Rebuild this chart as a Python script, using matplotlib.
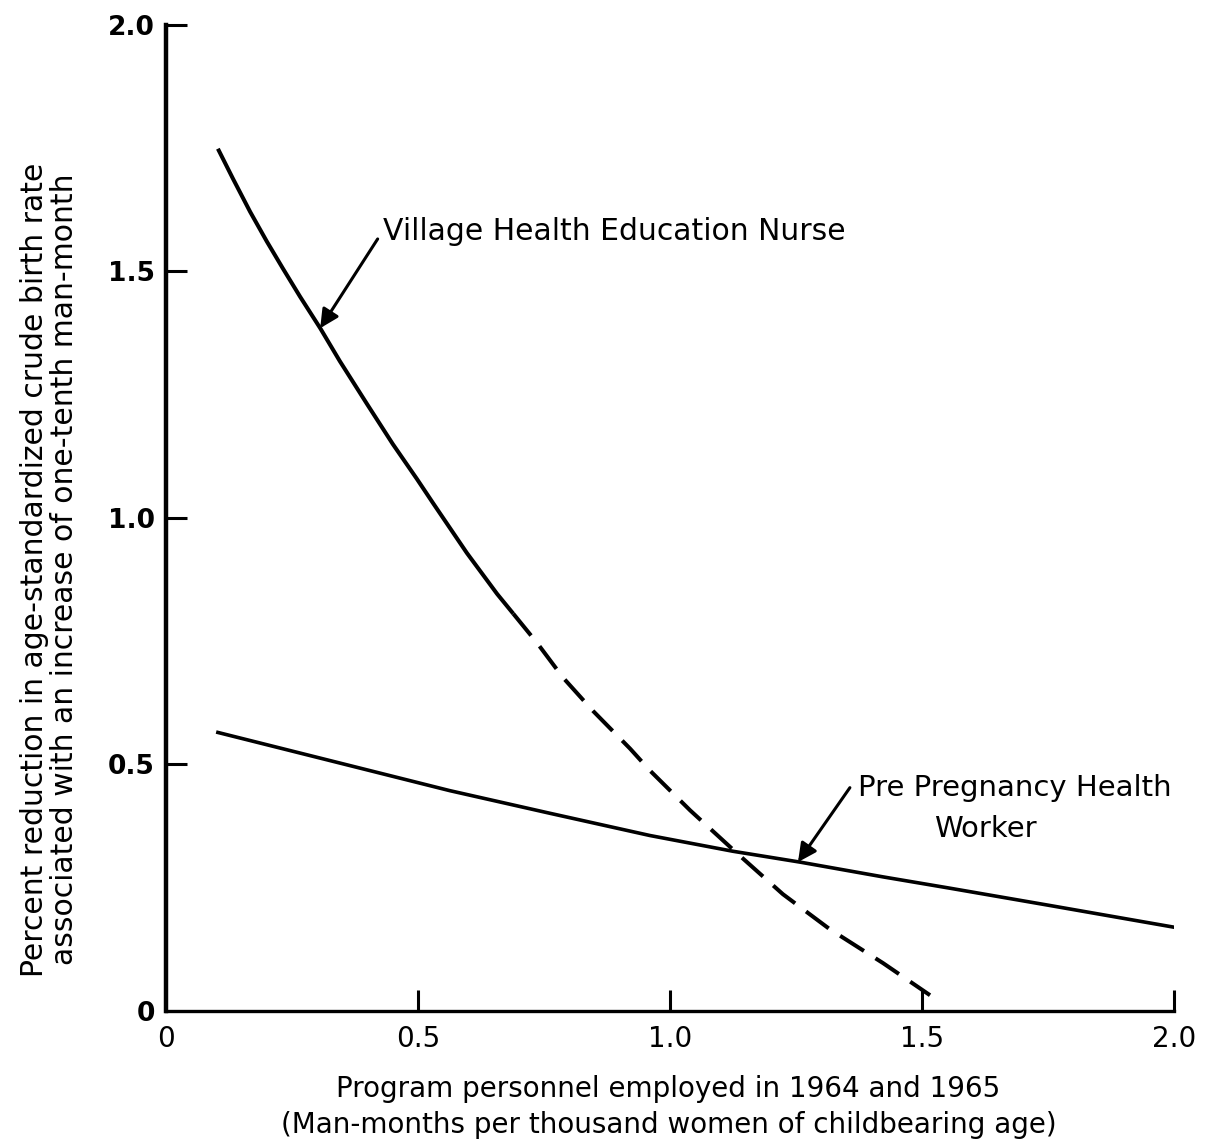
import matplotlib
matplotlib.use("Agg")
import matplotlib.pyplot as plt

# values
nurse_solid_x = [0.103, 0.133, 0.167, 0.200, 0.232, 0.266, 0.306, 0.345, 0.399,
                 0.450, 0.498, 0.530, 0.597, 0.657, 0.689]
nurse_solid_y = [1.749, 1.688, 1.621, 1.561, 1.506, 1.449, 1.385, 1.318, 1.231,
                 1.150, 1.079, 1.030, 0.929, 0.846, 0.806]
nurse_dash_x = [0.689, 0.736, 0.788, 0.847, 0.921, 0.960, 1.040, 1.133, 1.224,
                1.317, 1.423, 1.516]
nurse_dash_y = [0.806, 0.747, 0.676, 0.609, 0.532, 0.488, 0.407, 0.320, 0.237,
                0.166, 0.097, 0.032]

worker_x = [0.103, 0.563, 0.762, 0.960, 1.125, 1.258, 1.423, 1.556, 1.754, 2.0]
worker_y = [0.565, 0.447, 0.401, 0.356, 0.324, 0.302, 0.272, 0.249, 0.214, 0.170]

ticks = [0, 0.5, 1.0, 1.5, 2.0]
tick_labels = ["0", "0.5", "1.0", "1.5", "2.0"]

plt.rcParams['font.family'] = ['DejaVu Sans']

fig = plt.figure(figsize=(12.09, 11.46), dpi=100)
ax = fig.add_axes([0.1373, 0.1178, 0.8337, 0.8604])

ax.plot(nurse_solid_x, nurse_solid_y, color='black', lw=2.9, solid_capstyle='butt')
ax.plot(nurse_dash_x, nurse_dash_y, color='black', lw=2.9, dashes=(7.0, 3.4))
ax.plot(worker_x, worker_y, color='black', lw=2.6)

ax.set_xlim(0, 2.0)
ax.set_ylim(0, 2.0)
ax.spines['top'].set_visible(False)
ax.spines['right'].set_visible(False)
ax.spines['left'].set_linewidth(3.2)
ax.spines['bottom'].set_linewidth(2.4)

ax.set_xticks(ticks)
ax.set_xticklabels(tick_labels, fontsize=20)
ax.set_yticks(ticks)
ax.set_yticklabels(tick_labels, fontsize=19, fontweight='bold')
ax.tick_params(axis='both', direction='in', length=15, width=2.2, pad=8)
ax.tick_params(axis='x', pad=10)
ax.xaxis.get_major_ticks()[0].tick1line.set_visible(False)
ax.yaxis.get_major_ticks()[0].tick1line.set_visible(False)

# annotations
ax.annotate("", xy=(0.306, 1.385), xytext=(0.42, 1.566),
            arrowprops=dict(arrowstyle='-|>', color='black', lw=2.2,
                            mutation_scale=28, shrinkA=0, shrinkB=0))
ax.text(0.43, 1.581, "Village Health Education Nurse", fontsize=21.5,
        va='center', ha='left')

ax.annotate("", xy=(1.254, 0.302), xytext=(1.357, 0.453),
            arrowprops=dict(arrowstyle='-|>', color='black', lw=2.2,
                            mutation_scale=28, shrinkA=0, shrinkB=0))
ax.text(1.373, 0.453, "Pre Pregnancy Health", fontsize=21, va='center', ha='left')
ax.text(1.625, 0.370, "Worker", fontsize=21, va='center', ha='center')

# axis titles
fig.text(0.553, 0.034, "Program personnel employed in 1964 and 1965\n"
         "(Man-months per thousand women of childbearing age)",
         ha='center', va='center', fontsize=20, linespacing=1.4)
fig.text(0.041, 0.503, "Percent reduction in age-standardized crude birth rate\n"
         "associated with an increase of one-tenth man-month",
         ha='center', va='center', rotation=90, fontsize=21.5, linespacing=1.05)

fig.savefig("out.png", dpi=100)
